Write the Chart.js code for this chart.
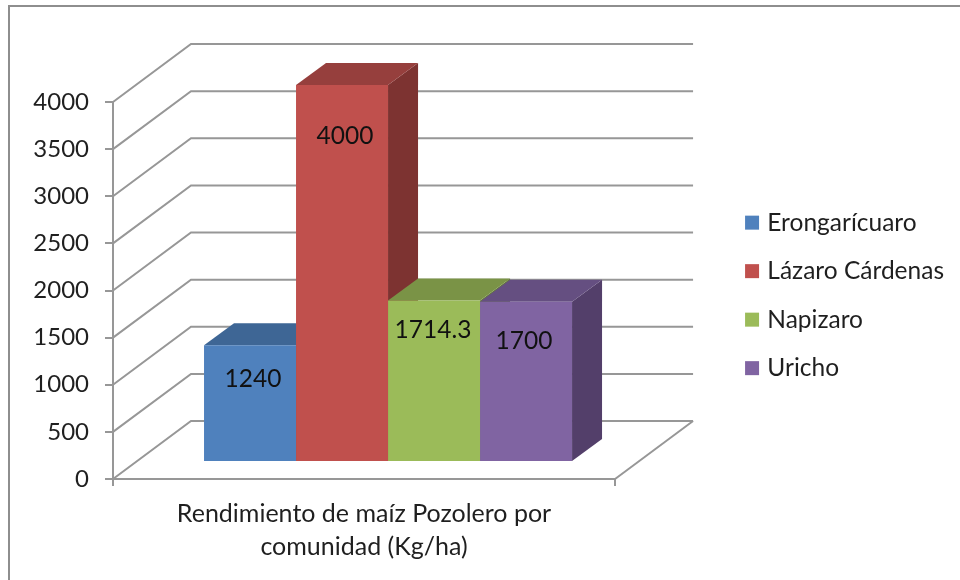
<!DOCTYPE html>
<html>
<head>
<meta charset="utf-8">
<title>Rendimiento de maíz Pozolero</title>
<script src="https://cdn.jsdelivr.net/npm/chart.js@4"></script>
<style>
  html, body { margin: 0; background: #fff; overflow: hidden; }
  #marco { position: absolute; left: 8px; top: 5px; width: 960px; height: 580px; border: 2px solid #8e8e8e; }
  canvas { position: absolute; left: 0; top: 0; }
</style>
</head>
<body>
<div id="marco"></div>
<canvas id="grafico" width="960" height="580"></canvas>
<script>
const categorias = [["Rendimiento de maíz Pozolero por", "comunidad (Kg/ha)"]];
const comunidades = ["Erongarícuaro", "Lázaro Cárdenas", "Napizaro", "Uricho"];
const rendimientos = [1240, 4000, 1714.3, 1700];
const etiquetas = ["1240", "4000", "1714.3", "1700"];
const marcasY = [0, 500, 1000, 1500, 2000, 2500, 3000, 3500, 4000];

const coloresFrente = ["#4f81bd", "#c0504d", "#9bbb59", "#8064a2"];
const coloresArriba = ["#3e6695", "#963f3d", "#7a9346", "#654f81"];
const coloresLado = ["#335479", "#7d3331", "#657a3a", "#533f6a"];

const fuente = "Lato, 'Noto Sans', sans-serif";
const colorTexto = "#1f1f1f";
const colorRejilla = "#979797";

// depth of the walls and of the bars, in pixels
const fondo = { dx: 78, dy: -58 };
const prof = { dx: 30, dy: -22 };
const despl = { dx: 24, dy: -17 };
// where each value label sits, from the bar centre and bar top
const posEtiquetas = [[3, 34], [3, 51], [-1, 30], [-2, 39]];

function linea(ctx, puntos) {
  ctx.beginPath();
  puntos.forEach((p, i) => (i ? ctx.lineTo(p[0], p[1]) : ctx.moveTo(p[0], p[1])));
  ctx.stroke();
}

function cara(ctx, puntos, color) {
  ctx.beginPath();
  puntos.forEach((p, i) => (i ? ctx.lineTo(p[0], p[1]) : ctx.moveTo(p[0], p[1])));
  ctx.closePath();
  ctx.fillStyle = color;
  ctx.fill();
}

const plugin3d = {
  id: "plugin3d",
  beforeDatasetsDraw(chart) {
    const ctx = chart.ctx;
    const { left, right } = chart.chartArea;
    const y = chart.scales.y;
    ctx.save();
    ctx.strokeStyle = colorRejilla;
    ctx.lineWidth = 2;
    marcasY.forEach((v) => {
      const py = y.getPixelForValue(v);
      linea(ctx, [[left, py], [left + fondo.dx, py + fondo.dy], [right + fondo.dx, py + fondo.dy]]);
    });
    const base = y.getPixelForValue(0);
    linea(ctx, [[right, base], [right + fondo.dx, base + fondo.dy]]);

    ctx.translate(despl.dx, despl.dy);
    comunidades.forEach((c, i) => {
      const bar = chart.getDatasetMeta(i).data[0];
      const x0 = bar.x - bar.width / 2;
      const x1 = bar.x + bar.width / 2;
      cara(ctx, [[x1, bar.y], [x1 + prof.dx, bar.y + prof.dy], [x1 + prof.dx, bar.base + prof.dy], [x1, bar.base]], coloresLado[i]);
      cara(ctx, [[x0, bar.y], [x0 + prof.dx, bar.y + prof.dy], [x1 + prof.dx, bar.y + prof.dy], [x1, bar.y]], coloresArriba[i]);
    });
    // the translate stays on for the bar fronts
  },
  afterDatasetsDraw(chart) {
    const ctx = chart.ctx;
    ctx.font = "24.5px " + fuente;
    ctx.fillStyle = "#111";
    ctx.textAlign = "center";
    ctx.textBaseline = "middle";
    comunidades.forEach((c, i) => {
      const bar = chart.getDatasetMeta(i).data[0];
      ctx.fillText(etiquetas[i], bar.x + posEtiquetas[i][0], bar.y + posEtiquetas[i][1]);
    });
    ctx.restore();
  },
};

const datasets = comunidades.map((c, i) => ({
  label: c,
  data: [rendimientos[i]],
  backgroundColor: coloresFrente[i],
  borderWidth: 0,
  clip: false,
}));

new Chart(document.getElementById("grafico"), {
  type: "bar",
  data: { labels: categorias, datasets: datasets },
  plugins: [plugin3d],
  options: {
    responsive: false,
    animation: false,
    events: [],
    layout: { padding: { left: 0, top: 102, right: 6, bottom: 0 } },
    datasets: { bar: { categoryPercentage: 0.733, barPercentage: 1 } },
    plugins: {
      tooltip: { enabled: false },
      title: { display: false },
      legend: {
        position: "right",
        align: "start",
        maxWidth: 230,
        // blank title: only pushes the rows down to where they belong
        title: { display: true, text: " ", padding: { top: 0, bottom: 70 } },
        labels: {
          // small box + thick stroke: the text sits closer to the swatch
          boxWidth: 6,
          boxHeight: 6,
          padding: 24,
          color: colorTexto,
          font: { family: fuente, size: 24.5 },
          generateLabels: (chart) =>
            Chart.defaults.plugins.legend.labels.generateLabels(chart).map((l) => ({
              ...l,
              lineWidth: 8,
              strokeStyle: l.fillStyle,
            })),
        },
      },
    },
    scales: {
      x: {
        afterFit: (s) => { s.height = 101; },
        grid: { drawOnChartArea: false, color: colorRejilla, lineWidth: 2, tickLength: 7 },
        border: { color: colorRejilla, width: 2 },
        ticks: { color: colorTexto, padding: 11, maxRotation: 0, font: { family: fuente, size: 25, lineHeight: 1.32 } },
      },
      y: {
        min: 0,
        max: 4000,
        afterFit: (s) => { s.width = 113; },
        grid: { drawOnChartArea: false, color: colorRejilla, lineWidth: 2, tickLength: 8 },
        border: { color: colorRejilla, width: 2 },
        ticks: { stepSize: 500, precision: 0, callback: (v) => String(v), color: colorTexto, padding: 16, font: { family: fuente, size: 24 } },
      },
      // empty axis: keeps the room for the depth between the plot and the legend
      holgura: {
        position: "right",
        display: true,
        afterFit: (s) => { s.width = 110; },
        grid: { display: false },
        border: { display: false },
        ticks: { display: false },
      },
    },
  },
});
</script>
</body>
</html>
